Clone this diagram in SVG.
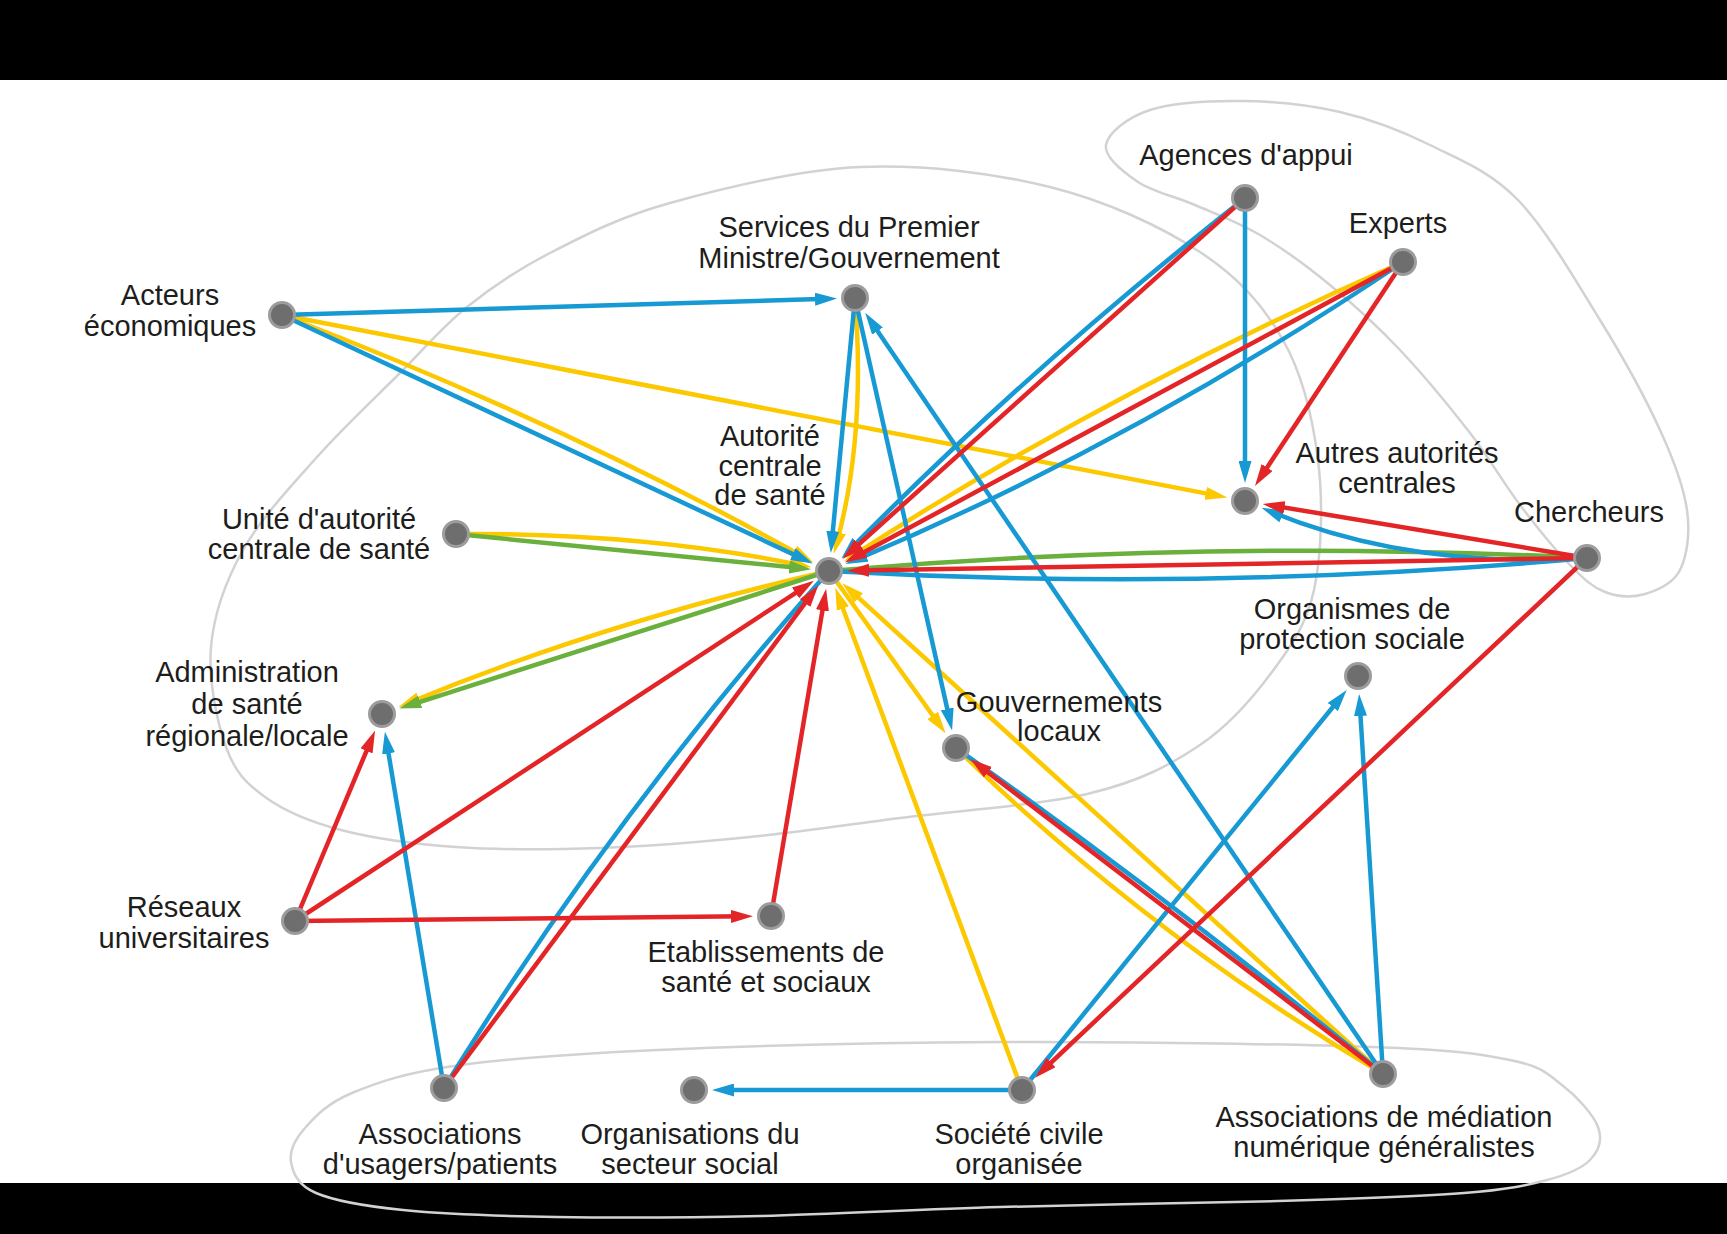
<svg xmlns="http://www.w3.org/2000/svg" width="1727" height="1234" viewBox="0 0 1727 1234">
<style>
.lbl{font-family:"Liberation Sans",Arial,Helvetica,sans-serif;font-size:29px;fill:#1d1d1b;text-anchor:middle}
.nd{fill:#6e6e6e;stroke:#9c9c9c;stroke-width:3}
.grp{fill:none;stroke:#d2d2d2;stroke-width:2.5}
.e{fill:none;stroke-width:4.5;stroke-linecap:butt}
.b{stroke:#1799d3}.r{stroke:#e42528}.y{stroke:#fcc800}.g{stroke:#6ab03c}
.mb{marker-end:url(#ab)}.mr{marker-end:url(#ar)}.my{marker-end:url(#ay)}.mg{marker-end:url(#ag)}
</style>
<defs>
<marker id="ab" markerUnits="userSpaceOnUse" markerWidth="22" markerHeight="13" viewBox="0 0 22 13" refX="13" refY="6.5" orient="auto"><path d="M0,0L22,6.5L0,13z" fill="#1799d3"/></marker>
<marker id="ar" markerUnits="userSpaceOnUse" markerWidth="22" markerHeight="13" viewBox="0 0 22 13" refX="13" refY="6.5" orient="auto"><path d="M0,0L22,6.5L0,13z" fill="#e42528"/></marker>
<marker id="ay" markerUnits="userSpaceOnUse" markerWidth="22" markerHeight="13" viewBox="0 0 22 13" refX="13" refY="6.5" orient="auto"><path d="M0,0L22,6.5L0,13z" fill="#fcc800"/></marker>
<marker id="ag" markerUnits="userSpaceOnUse" markerWidth="22" markerHeight="13" viewBox="0 0 22 13" refX="13" refY="6.5" orient="auto"><path d="M0,0L22,6.5L0,13z" fill="#6ab03c"/></marker>
</defs>
<rect x="0" y="0" width="1727" height="1234" fill="#ffffff"/>
<rect x="0" y="0" width="1727" height="80" fill="#000000"/>
<rect x="0" y="1183" width="1727" height="51" fill="#000000"/>
<g id="groups">
<path class="grp" d="M860,167 C923.3,164.3 993.3,172.8 1050,187 C1106.7,201.2 1161.2,226.5 1200,252 C1238.8,277.5 1263.3,305.3 1283,340 C1302.7,374.7 1312.8,418.3 1318,460 C1323.2,501.7 1321.7,554.7 1314,590 C1306.3,625.3 1291,646.2 1272,672 C1253,697.8 1230.2,724.8 1200,745 C1169.8,765.2 1141,780.8 1091,793 C1041,805.2 956.8,810.7 900,818 C843.2,825.3 800,832 750,837 C700,842 649,846.3 600,848 C551,849.7 499.2,850 456,847 C412.8,844 372.8,838.3 341,830 C309.2,821.7 284.2,810.8 265,797 C245.8,783.2 235,772 226,747 C217,722 208.2,679.8 211,647 C213.8,614.2 225.3,581.7 243,550 C260.7,518.3 290.8,486.5 317,457 C343.2,427.5 375,398 400,373 C425,348 442,327 467,307 C492,287 516.2,270.3 550,253 C583.8,235.7 618.3,217.3 670,203 C721.7,188.7 796.7,169.7 860,167 Z"/>
<path class="grp" d="M1106,145 C1108,133 1127.3,117.3 1150,110 C1172.7,102.7 1210.3,100.7 1242,101 C1273.7,101.3 1308.7,104.7 1340,112 C1371.3,119.3 1400.3,130.3 1430,145 C1459.7,159.7 1489.7,170.8 1518,200 C1546.3,229.2 1576.3,281.7 1600,320 C1623.7,358.3 1645.5,398.3 1660,430 C1674.5,461.7 1683.7,486.7 1687,510 C1690.3,533.3 1687,556 1680,570 C1673,584 1657.5,590.3 1645,594 C1632.5,597.7 1617.5,596.8 1605,592 C1592.5,587.2 1584.2,579.5 1570,565 C1555.8,550.5 1536.7,527 1520,505 C1503.3,483 1490,458.8 1470,433 C1450,407.2 1423.3,374.7 1400,350 C1376.7,325.3 1353.3,304.2 1330,285 C1306.7,265.8 1282.5,248.3 1260,235 C1237.5,221.7 1215.3,213.8 1195,205 C1174.7,196.2 1152.8,192 1138,182 C1123.2,172 1104,157 1106,145 Z"/>
<path class="grp" d="M291,1162 C289.2,1151.2 294.8,1139.5 305,1128 C315.2,1116.5 327.2,1103.3 352,1093 C376.8,1082.7 403,1073.2 454,1066 C505,1058.8 567,1054 658,1050 C749,1046 881.2,1042.5 1000,1042 C1118.8,1041.5 1286,1044 1371,1047 C1456,1050 1478.2,1053.7 1510,1060 C1541.8,1066.3 1547.3,1073.8 1562,1085 C1576.7,1096.2 1593.3,1114.5 1598,1127 C1602.7,1139.5 1598.5,1151.2 1590,1160 C1581.5,1168.8 1568,1174.5 1547,1180 C1526,1185.5 1508.8,1189.5 1464,1193 C1419.2,1196.5 1355.3,1198.7 1278,1201 C1200.7,1203.3 1086.3,1204.5 1000,1207 C913.7,1209.5 834,1214.3 760,1216 C686,1217.7 615.5,1218 556,1217 C496.5,1216 443,1214 403,1210 C363,1206 334.7,1201 316,1193 C297.3,1185 292.8,1172.8 291,1162 Z"/>
</g>
<g id="connectors">
<path class="e y my" d="M282,315 Q564.8,423.1 805.4,557.9"/>
<path class="e y my" d="M282,315 L1218.5,495.9"/>
<path class="e y my" d="M855,298 Q866,437 836.2,545"/>
<path class="e y my" d="M1403,262 Q1103.7,393.6 851.7,556.4"/>
<path class="e y my" d="M456,534 Q644.5,532.6 802.6,565.5"/>
<path class="e y my" d="M829,571 Q599.4,623.5 406.9,703.6"/>
<path class="e y my" d="M829,571 L940.3,726"/>
<path class="e y my" d="M1383,1074 L849,589.2"/>
<path class="e y" d="M1383,1074 Q1150,936.4 956,748"/>
<path class="e y my" d="M1022,1090 L838.4,596.3"/>
<path class="e g" d="M1587,558 Q1207.6,538.5 829,571"/>
<path class="e g mg" d="M456,534 L802.1,568.3"/>
<path class="e g mg" d="M829,571 L407.8,705.8"/>
<path class="e b mb" d="M282,315 L828,298.85"/>
<path class="e b mb" d="M282,315 L804.6,559.6"/>
<path class="e b mb" d="M855,298 L831.6,544.1"/>
<path class="e b mb" d="M855,298 L950.1,721.6"/>
<path class="e b mb" d="M1383,1074 L870.2,320.3"/>
<path class="e b mb" d="M1245,198 Q1025,371.1 847.9,551.7"/>
<path class="e b mb" d="M1245,198 L1245,474"/>
<path class="e b mb" d="M1403,262 Q1131.2,444.7 853.9,560.6"/>
<path class="e b mb" d="M1587,558 Q1409.4,569 1269.9,511.3"/>
<path class="e b" d="M1587,558 Q1208.5,592.5 829,571"/>
<path class="e b" d="M1383,1074 Q1175.6,903.1 956,748"/>
<path class="e b mb" d="M1383,1074 L1359.7,703"/>
<path class="e b mb" d="M1022,1090 L1341,697"/>
<path class="e b mb" d="M1022,1090 L721,1090"/>
<path class="e b mb" d="M444,1088 L386.4,740.6"/>
<path class="e b" d="M444,1088 Q614,812.8 829,571"/>
<path class="e r mr" d="M1245,198 L849.1,553"/>
<path class="e r mr" d="M1403,262 L852.8,558.2"/>
<path class="e r mr" d="M1403,262 L1259.9,478.4"/>
<path class="e r mr" d="M1587,558 L1271.6,505.4"/>
<path class="e r mr" d="M1587,558 L856,570.5"/>
<path class="e r mr" d="M1587,558 L1041.6,1071.5"/>
<path class="e r mr" d="M1383,1074 L977.5,764.4"/>
<path class="e r mr" d="M295,921 L371.6,738.9"/>
<path class="e r mr" d="M295,921 L806.4,585.8"/>
<path class="e r mr" d="M295,921 L744,916.3"/>
<path class="e r mr" d="M771,916 L824.6,597.6"/>
<path class="e r mr" d="M444,1088 L812.9,592.6"/>
</g>
<g id="n-acteurs"><circle class="nd" cx="282" cy="315" r="12.5"/><text class="lbl"><tspan x="170" y="305">Acteurs</tspan><tspan x="170" y="336">économiques</tspan></text></g>
<g id="n-spm"><circle class="nd" cx="855" cy="298" r="12.5"/><text class="lbl"><tspan x="849" y="237">Services du Premier</tspan><tspan x="849" y="268">Ministre/Gouvernement</tspan></text></g>
<g id="n-agences"><circle class="nd" cx="1245" cy="198" r="12.5"/><text class="lbl" x="1246" y="165">Agences d'appui</text></g>
<g id="n-experts"><circle class="nd" cx="1403" cy="262" r="12.5"/><text class="lbl" x="1398" y="233">Experts</text></g>
<g id="n-autres"><circle class="nd" cx="1245" cy="501" r="12.5"/><text class="lbl"><tspan x="1397" y="463">Autres autorités</tspan><tspan x="1397" y="493">centrales</tspan></text></g>
<g id="n-chercheurs"><circle class="nd" cx="1587" cy="558" r="12.5"/><text class="lbl" x="1589" y="522">Chercheurs</text></g>
<g id="n-acs"><circle class="nd" cx="829" cy="571" r="12.5"/><text class="lbl"><tspan x="770" y="446">Autorité</tspan><tspan x="770" y="476">centrale</tspan><tspan x="770" y="505">de santé</tspan></text></g>
<g id="n-unite"><circle class="nd" cx="456" cy="534" r="12.5"/><text class="lbl"><tspan x="319" y="529">Unité d'autorité</tspan><tspan x="319" y="559">centrale de santé</tspan></text></g>
<g id="n-admin"><circle class="nd" cx="382" cy="714" r="12.5"/><text class="lbl"><tspan x="247" y="682">Administration</tspan><tspan x="247" y="714">de santé</tspan><tspan x="247" y="746">régionale/locale</tspan></text></g>
<g id="n-gouv"><circle class="nd" cx="956" cy="748" r="12.5"/><text class="lbl"><tspan x="1059" y="712">Gouvernements</tspan><tspan x="1059" y="741">locaux</tspan></text></g>
<g id="n-ops"><circle class="nd" cx="1358" cy="676" r="12.5"/><text class="lbl"><tspan x="1352" y="619">Organismes de</tspan><tspan x="1352" y="649">protection sociale</tspan></text></g>
<g id="n-reseaux"><circle class="nd" cx="295" cy="921" r="12.5"/><text class="lbl"><tspan x="184" y="917">Réseaux</tspan><tspan x="184" y="948">universitaires</tspan></text></g>
<g id="n-etab"><circle class="nd" cx="771" cy="916" r="12.5"/><text class="lbl"><tspan x="766" y="962">Etablissements de</tspan><tspan x="766" y="992">santé et sociaux</tspan></text></g>
<g id="n-aup"><circle class="nd" cx="444" cy="1088" r="12.5"/><text class="lbl"><tspan x="440" y="1144">Associations</tspan><tspan x="440" y="1174">d'usagers/patients</tspan></text></g>
<g id="n-oss"><circle class="nd" cx="694" cy="1090" r="12.5"/><text class="lbl"><tspan x="690" y="1144">Organisations du</tspan><tspan x="690" y="1174">secteur social</tspan></text></g>
<g id="n-sco"><circle class="nd" cx="1022" cy="1090" r="12.5"/><text class="lbl"><tspan x="1019" y="1144">Société civile</tspan><tspan x="1019" y="1174">organisée</tspan></text></g>
<g id="n-amn"><circle class="nd" cx="1383" cy="1074" r="12.5"/><text class="lbl"><tspan x="1384" y="1127">Associations de médiation</tspan><tspan x="1384" y="1157">numérique généralistes</tspan></text></g>
</svg>
